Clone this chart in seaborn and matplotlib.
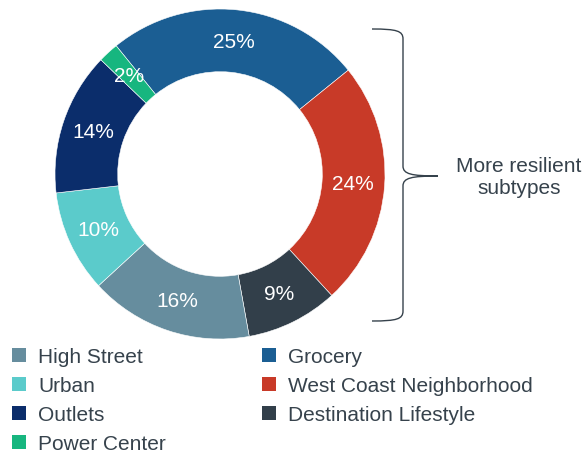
import numpy as np
import matplotlib
matplotlib.use("Agg")
import matplotlib.pyplot as plt
import seaborn as sns
from matplotlib.path import Path
from matplotlib.patches import PathPatch, Patch

# subtype shares, clockwise from top-left
subtypes = ["Grocery", "West Coast Neighborhood", "Destination Lifestyle",
            "High Street", "Urban", "Outlets", "Power Center"]
shares = [25, 24, 9, 16, 10, 14, 2]
colors = ["#1B5E93", "#C83A28", "#323F4A", "#668D9E", "#5BCBCB", "#0B2D6B", "#17B67F"]
legend_order = ["High Street", "Urban", "Outlets", "Power Center",
                "Grocery", "West Coast Neighborhood", "Destination Lifestyle"]
note = "More resilient\nsubtypes"

sns.set_style("white")
plt.rcParams["font.family"] = ["Liberation Sans", "DejaVu Sans"]
txt_color = "#36424C"

W, H = 588, 456
fig = plt.figure(figsize=(W / 100, H / 100), dpi=100)

# donut axes: center (220,175) px, radius 165 px
cx, cy, R = 220, 175, 165
half = 170
ax = fig.add_axes([(cx - half) / W, (H - cy - half) / H, 2 * half / W, 2 * half / H])
wedges, _, autotexts = ax.pie(
    shares, colors=colors, startangle=129, counterclock=False,
    radius=1, autopct=lambda p: f"{p:.0f}%", pctdistance=0.81,
    wedgeprops=dict(width=0.38, edgecolor="white", linewidth=0.4),
    textprops=dict(color="white", fontsize=15),
)
lim = half / R
ax.set_xlim(-lim, lim)
ax.set_ylim(-lim, lim)
ax.set_aspect("equal")
ax.axis("off")

# curly brace on the right
def px(x, y):
    return ((x - cx) / R, (cy - y) / R)

xl, xv, xt = 372, 403, 438
yt, ym, yb = 30, 177, 322
verts = [px(xl, yt), px(xv - 6, yt), px(xv, yt + 2), px(xv, yt + 10),
         px(xv, ym - 10),
         px(xv, ym - 2), px(xv + 8, ym), px(xt, ym),
         px(xv + 8, ym), px(xv, ym + 2), px(xv, ym + 10),
         px(xv, yb - 10),
         px(xv, yb - 2), px(xv - 6, yb), px(xl, yb)]
codes = [Path.MOVETO, Path.CURVE4, Path.CURVE4, Path.CURVE4,
         Path.LINETO,
         Path.CURVE4, Path.CURVE4, Path.CURVE4,
         Path.CURVE4, Path.CURVE4, Path.CURVE4,
         Path.LINETO,
         Path.CURVE4, Path.CURVE4, Path.CURVE4]
ax.add_patch(PathPatch(Path(verts, codes), facecolor="none", edgecolor=txt_color,
                       linewidth=1.0, clip_on=False))
fig.text(519 / W, 1 - 178 / H, note, ha="center", va="center",
         fontsize=15, color=txt_color, linespacing=1.2)

# legend
col_map = dict(zip(subtypes, colors))
handles = [Patch(facecolor=col_map[s], edgecolor="none") for s in legend_order]
fig.legend(handles, legend_order, loc="upper left",
           bbox_to_anchor=(12 / W, 1 - 348 / H), ncol=2, frameon=False,
           fontsize=15, labelcolor=txt_color, handlelength=0.65, handleheight=0.65,
           handletextpad=0.6, columnspacing=4.62, labelspacing=0.48,
           borderaxespad=0, borderpad=0)

fig.savefig("out.png", dpi=100)
